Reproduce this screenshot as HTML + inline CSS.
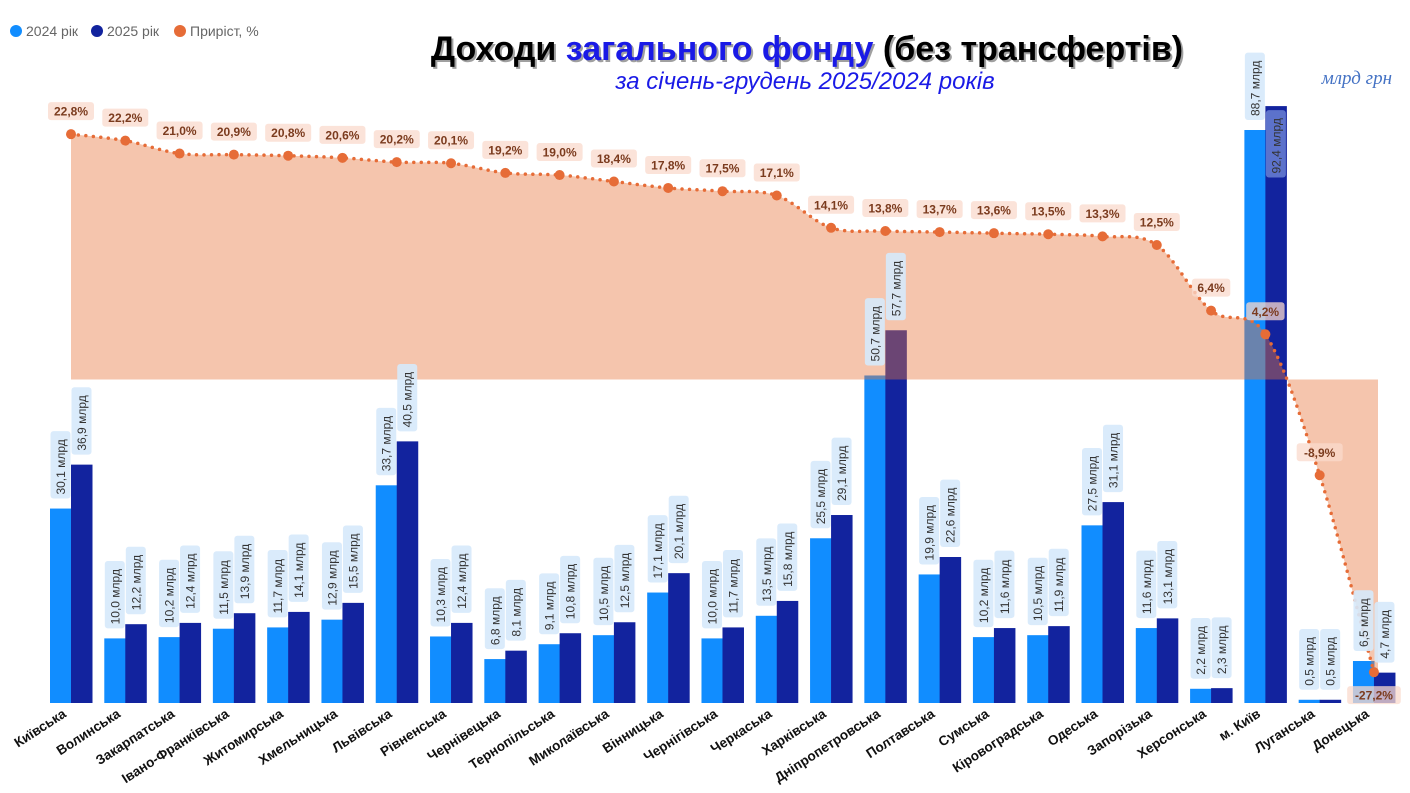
<!DOCTYPE html>
<html><head><meta charset="utf-8"><style>
html,body{margin:0;padding:0;background:#fff;}
body{width:1410px;height:793px;overflow:hidden;font-family:"Liberation Sans","DejaVu Sans",sans-serif;}
</style></head><body>
<svg id="s" width="1410" height="793" xmlns="http://www.w3.org/2000/svg" style="position:absolute;left:0;top:0">
<g font-size="14" fill="#666">
<circle cx="16" cy="31" r="6" fill="#118dff"/><text x="26" y="36">2024 рік</text>
<circle cx="97" cy="31" r="6" fill="#12239e"/><text x="107" y="36">2025 рік</text>
<circle cx="180" cy="31" r="6" fill="#e66c37"/><text x="190" y="36">Приріст, %</text>
</g>
<text x="807" y="60" text-anchor="middle" font-size="34" font-weight="bold" fill="#444" opacity="0.5" transform="translate(2,2)">Доходи загального фонду (без трансфертів)</text>
<text x="807" y="60" text-anchor="middle" font-size="34" font-weight="bold" fill="#000">Доходи <tspan fill="#1a1ae6">загального фонду</tspan> (без трансфертів)</text>
<text x="805" y="89" text-anchor="middle" font-size="24" font-style="italic" fill="#1a1ae6">за січень-грудень 2025/2024 років</text>
<text x="1392" y="84" text-anchor="end" font-size="19" font-style="italic" fill="#4472c4" font-family="Liberation Serif,serif">млрд грн</text>
<g id="g"></g>
</svg>
<script>
var D=[["Київська",30.1,36.9,22.8],["Волинська",10.0,12.2,22.2],["Закарпатська",10.2,12.4,21.0],["Івано-Франківська",11.5,13.9,20.9],["Житомирська",11.7,14.1,20.8],["Хмельницька",12.9,15.5,20.6],["Львівська",33.7,40.5,20.2],["Рівненська",10.3,12.4,20.1],["Чернівецька",6.8,8.1,19.2],["Тернопільська",9.1,10.8,19.0],["Миколаївська",10.5,12.5,18.4],["Вінницька",17.1,20.1,17.8],["Чернігівська",10.0,11.7,17.5],["Черкаська",13.5,15.8,17.1],["Харківська",25.5,29.1,14.1],["Дніпропетровська",50.7,57.7,13.8],["Полтавська",19.9,22.6,13.7],["Сумська",10.2,11.6,13.6],["Кіровоградська",10.5,11.9,13.5],["Одеська",27.5,31.1,13.3],["Запорізька",11.6,13.1,12.5],["Херсонська",2.2,2.3,6.4],["м. Київ",88.7,92.4,4.2],["Луганська",0.5,0.5,-8.9],["Донецька",6.5,4.7,-27.2]];
var B=703,K=6.46,Z=379.5,P=10.76;
function cx(i){return 71+i*54.29;}
function f(v){return v.toFixed(1).replace('.',',');}
var h='';
D.forEach(function(d,i){
 var c=cx(i);
 [[d[1],c-21,'#118dff'],[d[2],c,'#12239e']].forEach(function(b){
  var t=B-b[0]*K;
  h+='<rect x="'+b[1]+'" y="'+t+'" width="21.5" height="'+(B-t)+'" fill="'+b[2]+'"/>';
 });
});
var pts=D.map(function(d,i){return [cx(i),Z-d[3]*P];});
var path='M'+pts[0][0]+','+pts[0][1];
for(var i=0;i<pts.length-1;i++){
 var p0=pts[i-1]||pts[i],p1=pts[i],p2=pts[i+1],p3=pts[i+2]||p2;
 path+=' C'+(p1[0]+(p2[0]-p0[0])/6)+','+(p1[1]+(p2[1]-p0[1])/6)+' '+(p2[0]-(p3[0]-p1[0])/6)+','+(p2[1]-(p3[1]-p1[1])/6)+' '+p2[0]+','+p2[1];
}
h+='<path d="'+path+' L1378,'+pts[24][1]+' L1378,'+Z+' L71,'+Z+'Z" fill="#e8743b" fill-opacity="0.42"/>';
h+='<path d="'+path+'" fill="none" stroke="#e66c37" stroke-width="3.5" stroke-linecap="round" stroke-dasharray="0 7.5"/>';
D.forEach(function(d,i){
 var c=cx(i);
 [[d[1],c-10.5],[d[2],c+10.5]].forEach(function(b){
  var t=B-b[0]*K, s=f(b[0])+' млрд', L=s.length*6.6+8;
  var bot=t-10, inside=false;
  if(bot-L<40){bot=t+4+L;inside=true;}
  h+='<rect x="'+(b[1]-10)+'" y="'+(bot-L)+'" width="20" height="'+L+'" rx="3" fill="'+(inside?'#6f86d6':'#d6e9fb')+'" fill-opacity="'+(inside?0.8:0.9)+'"/>';
  h+='<text transform="translate('+(b[1]+4.5)+','+(bot-4)+') rotate(-90)" font-size="12" fill="#333">'+s+'</text>';
 });
});
D.forEach(function(d,i){
 var c=pts[i][0],y=pts[i][1],s=f(d[3])+'%',w=s.length*7.6+8;
 var ly=(i==24)?y+23:y-23;
 h+='<rect x="'+(c-w/2)+'" y="'+(ly-9)+'" width="'+w+'" height="18" rx="3" fill="#f9d9cc" fill-opacity="0.75"/>';
 h+='<text x="'+c+'" y="'+(ly+4.5)+'" text-anchor="middle" font-size="12" font-weight="bold" fill="#7b3b1e">'+s+'</text>';
 h+='<circle cx="'+c+'" cy="'+y+'" r="5" fill="#e66c37"/>';
 h+='<text transform="translate('+(c-4)+',716) rotate(-33)" text-anchor="end" font-size="13.5" font-weight="bold" fill="#111">'+d[0]+'</text>';
});
document.getElementById('g').innerHTML=h;
</script>
</body></html>
